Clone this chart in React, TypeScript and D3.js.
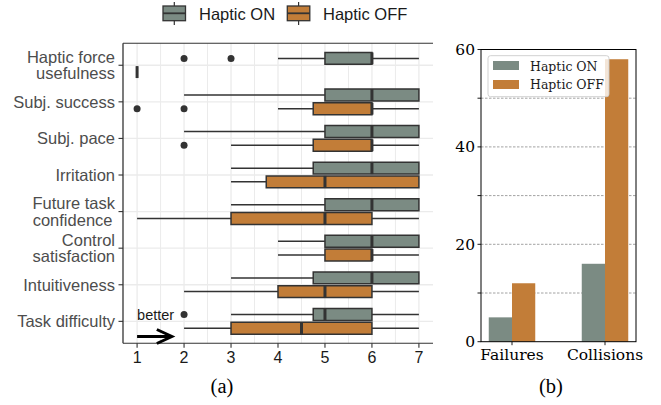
import React from "react";
import * as d3 from "d3";

// ---------- Data ----------
const categories = [
  "Haptic force\nusefulness",
  "Subj. success",
  "Subj. pace",
  "Irritation",
  "Future task\nconfidence ",
  "Control\nsatisfaction",
  "Intuitiveness",
  "Task difficulty",
];
const seriesNames = ["Haptic ON", "Haptic OFF"];
// [min, q1, median, q3, max]
const onStats: number[][] = [
  [4, 5, 6, 6, 7],
  [2, 5, 6, 7, 7],
  [2, 5, 6, 7, 7],
  [3, 4.75, 6, 7, 7],
  [3, 5, 6, 7, 7],
  [4, 5, 6, 7, 7],
  [3, 4.75, 6, 7, 7],
  [3, 4.75, 5, 6, 7],
];
const onOutliers: number[][] = [[2, 3], [], [], [], [], [], [], [2]];
const offStats: number[][] = [
  [1, 1, 1, 1, 1],
  [4, 4.75, 6, 6, 7],
  [3, 4.75, 6, 6, 7],
  [3, 3.75, 5, 7, 7],
  [1, 3, 5, 6, 7],
  [4, 5, 6, 6, 7],
  [2, 4, 5, 6, 7],
  [2, 3, 4.5, 6, 7],
];
const offOutliers: number[][] = [[], [1, 2], [2], [], [], [], [], []];
const xTicks = [1, 2, 3, 4, 5, 6, 7];

const barCategories = ["Failures", "Collisions"];
const barOn = [5, 16];
const barOff = [12, 58];
const barYTicks = [0, 10, 20, 30, 40, 50, 60];

// ---------- Styles ----------
const ON_COLOR = "#7b8b83";
const OFF_COLOR = "#c27d38";
const DARK = "#333333";
const SANS = "'Liberation Sans', Arial, sans-serif";
const SERIF_MPL = "'DejaVu Serif', serif";
const TIMES = "'Liberation Serif', 'Times New Roman', serif";

export default function App() {
  // Left panel
  const pL = 123, pR = 433, pT = 43.3, pB = 343.3;
  const x = d3.scaleLinear().domain([0.7, 7.3]).range([pL, pR]);
  const n = categories.length;
  const step = (pB - pT) / (n - 1 + 1.2);
  const yCat = (i: number) => pT + (0.6 + i) * step;
  const off = 0.1875 * step;
  const half = 0.1625 * step;
  const minorTicks = d3.range(1.5, 7, 1);

  const stats = [onStats, offStats];
  const outs = [onOutliers, offOutliers];
  const colors = [ON_COLOR, OFF_COLOR];

  // Right panel
  const bL = 481, bR = 636, bT = 49.5, bB = 341.7;
  const bx = d3.scaleLinear().domain([-1 / 3, 4 / 3]).range([bL, bR]);
  const by = d3.scaleLinear().domain([0, 60]).range([bB, bT]);
  const bw = 0.25;

  const fs = 16.5;
  const lh = 16.7;

  return (
    <div>
      <style>{`body{margin:0}`}</style>
      <svg width={661} height={405} style={{ display: "block", background: "#fff" }}>
        {/* ---------- Left panel ---------- */}
        {minorTicks.map((t) => (
          <line key={"mg" + t} x1={x(t)} x2={x(t)} y1={pT} y2={pB} stroke="#ebebeb" strokeWidth={1} />
        ))}
        {xTicks.map((t) => (
          <line key={"g" + t} x1={x(t)} x2={x(t)} y1={pT} y2={pB} stroke="#ebebeb" strokeWidth={1.3} />
        ))}
        {categories.map((c, i) => (
          <line key={"hg" + i} x1={pL} x2={pR} y1={yCat(i)} y2={yCat(i)} stroke="#ebebeb" strokeWidth={1.3} />
        ))}

        {categories.map((c, i) =>
          [0, 1].map((s) => {
            const [mn, q1, md, q3, mx] = stats[s][i];
            const cy = yCat(i) + (s === 0 ? -off : off);
            const x1 = x(q1), x2 = x(q3);
            return (
              <g key={"b" + i + "-" + s}>
                <line x1={x(mn)} x2={x1} y1={cy} y2={cy} stroke={DARK} strokeWidth={1.5} />
                <line x1={x2} x2={x(mx)} y1={cy} y2={cy} stroke={DARK} strokeWidth={1.5} />
                <path
                  d={`M${x1},${cy - half}H${x2}V${cy + half}H${x1}Z`}
                  fill={colors[s]}
                  stroke={DARK}
                  strokeWidth={1.5}
                />
                <line x1={x(md)} x2={x(md)} y1={cy - half} y2={cy + half} stroke={DARK} strokeWidth={3} />
                {outs[s][i].map((o, k) => (
                  <circle key={k} cx={x(o)} cy={cy} r={3.5} fill={DARK} />
                ))}
              </g>
            );
          })
        )}

        <line x1={pL} x2={pR} y1={pT} y2={pT} stroke={DARK} strokeWidth={1.1} />
        <line x1={pL} x2={pR} y1={pB} y2={pB} stroke={DARK} strokeWidth={1.1} />
        <line x1={pL} x2={pL} y1={pT} y2={pB} stroke={DARK} strokeWidth={1.3} />

        {categories.map((c, i) => {
          const lines = c.split("\n");
          const cy = yCat(i);
          const first = cy - ((lines.length - 1) * lh) / 2 + 0.35 * fs;
          return (
            <g key={"yl" + i}>
              <line x1={pL - 4.5} x2={pL} y1={cy} y2={cy} stroke={DARK} strokeWidth={1.1} />
              <text textAnchor="end" fontFamily={SANS} fontSize={fs} fill="#4d4d4d">
                {lines.map((l, k) => (
                  <tspan key={k} x={pL - 8 - (l.endsWith(" ") ? 2.5 : 0)} y={first + k * lh}>
                    {l.trimEnd()}
                  </tspan>
                ))}
              </text>
            </g>
          );
        })}

        {xTicks.map((t) => (
          <g key={"xt" + t}>
            <line x1={x(t)} x2={x(t)} y1={pB} y2={pB + 4.5} stroke={DARK} strokeWidth={1.1} />
            <text x={x(t)} y={362.5} textAnchor="middle" fontFamily={SANS} fontSize={16} fill="#1a1a1a">
              {t}
            </text>
          </g>
        ))}

        <text x={x(1)} y={320} fontFamily={SANS} fontSize={14.5} fill="#1a1a1a">
          better
        </text>
        <line x1={x(1)} x2={x(1.74)} y1={336.5} y2={336.5} stroke="#000" strokeWidth={3} />
        <polyline
          points={`${x(1.42)},329.5 ${x(1.74)},336.5 ${x(1.42)},343.5`}
          fill="none"
          stroke="#000"
          strokeWidth={3}
          strokeLinejoin="miter"
        />

        {[0, 1].map((s) => {
          const kx = s === 0 ? 163 : 287.3;
          const tx = s === 0 ? 199 : 323;
          return (
            <g key={"lg" + s}>
              <line x1={kx + 11.3} x2={kx + 11.3} y1={2} y2={25} stroke={DARK} strokeWidth={1.2} />
              <rect x={kx} y={6} width={22.5} height={14.7} fill={colors[s]} stroke={DARK} strokeWidth={1.3} />
              <line x1={kx} x2={kx + 22.5} y1={13.3} y2={13.3} stroke={DARK} strokeWidth={1.8} />
              <text x={tx} y={19.5} fontFamily={SANS} fontSize={16.5} fill="#1a1a1a">
                {seriesNames[s]}
              </text>
            </g>
          );
        })}

        <text x={222} y={393} textAnchor="middle" fontFamily={TIMES} fontSize={20.5} fill="#000">
          (a)
        </text>

        {/* ---------- Right panel ---------- */}
        {barYTicks.slice(1, -1).map((t) => (
          <line
            key={"bg" + t}
            x1={bL}
            x2={bR}
            y1={by(t)}
            y2={by(t)}
            stroke="#8a8a8a"
            strokeWidth={0.8}
            strokeDasharray="2.5,1.5"
          />
        ))}
        {barCategories.map((c, i) => (
          <g key={"bar" + i}>
            <rect x={bx(i - bw)} width={bx(i) - bx(i - bw)} y={by(barOn[i])} height={by(0) - by(barOn[i])} fill={ON_COLOR} />
            <rect x={bx(i)} width={bx(i + bw) - bx(i)} y={by(barOff[i])} height={by(0) - by(barOff[i])} fill={OFF_COLOR} />
          </g>
        ))}
        <rect x={bL} y={bT} width={bR - bL} height={bB - bT} fill="none" stroke="#000" strokeWidth={1} />
        {barYTicks.map((t) => (
          <g key={"byt" + t}>
            <line x1={bL - 3.5} x2={bL} y1={by(t)} y2={by(t)} stroke="#000" strokeWidth={0.9} />
            {t % 20 === 0 && (
              <text x={bL - 6} y={by(t) + 5.5} textAnchor="end" fontFamily={SERIF_MPL} fontSize={15.5} fill="#000">
                {t}
              </text>
            )}
          </g>
        ))}
        {barCategories.map((c, i) => (
          <g key={"bxt" + i}>
            <line x1={bx(i)} x2={bx(i)} y1={bB} y2={bB + 3.5} stroke="#000" strokeWidth={0.9} />
            <text x={bx(i)} y={360} textAnchor="middle" fontFamily={SERIF_MPL} fontSize={15.5} fill="#000">
              {c}
            </text>
          </g>
        ))}

        <rect x={488} y={55.7} width={121} height={41} rx={2.5} fill="#fff" fillOpacity={0.8} stroke="#cccccc" strokeWidth={0.9} />
        {[0, 1].map((s) => (
          <g key={"bl" + s}>
            <rect x={493} y={s === 0 ? 61 : 80} width={26} height={9} fill={colors[s]} />
            <text x={530} y={s === 0 ? 70.6 : 89.2} fontFamily={SERIF_MPL} fontSize={12.5} fill="#1a1a1a">
              {seriesNames[s]}
            </text>
          </g>
        ))}

        <text x={551} y={393} textAnchor="middle" fontFamily={TIMES} fontSize={20.5} fill="#000">
          (b)
        </text>
      </svg>
    </div>
  );
}
